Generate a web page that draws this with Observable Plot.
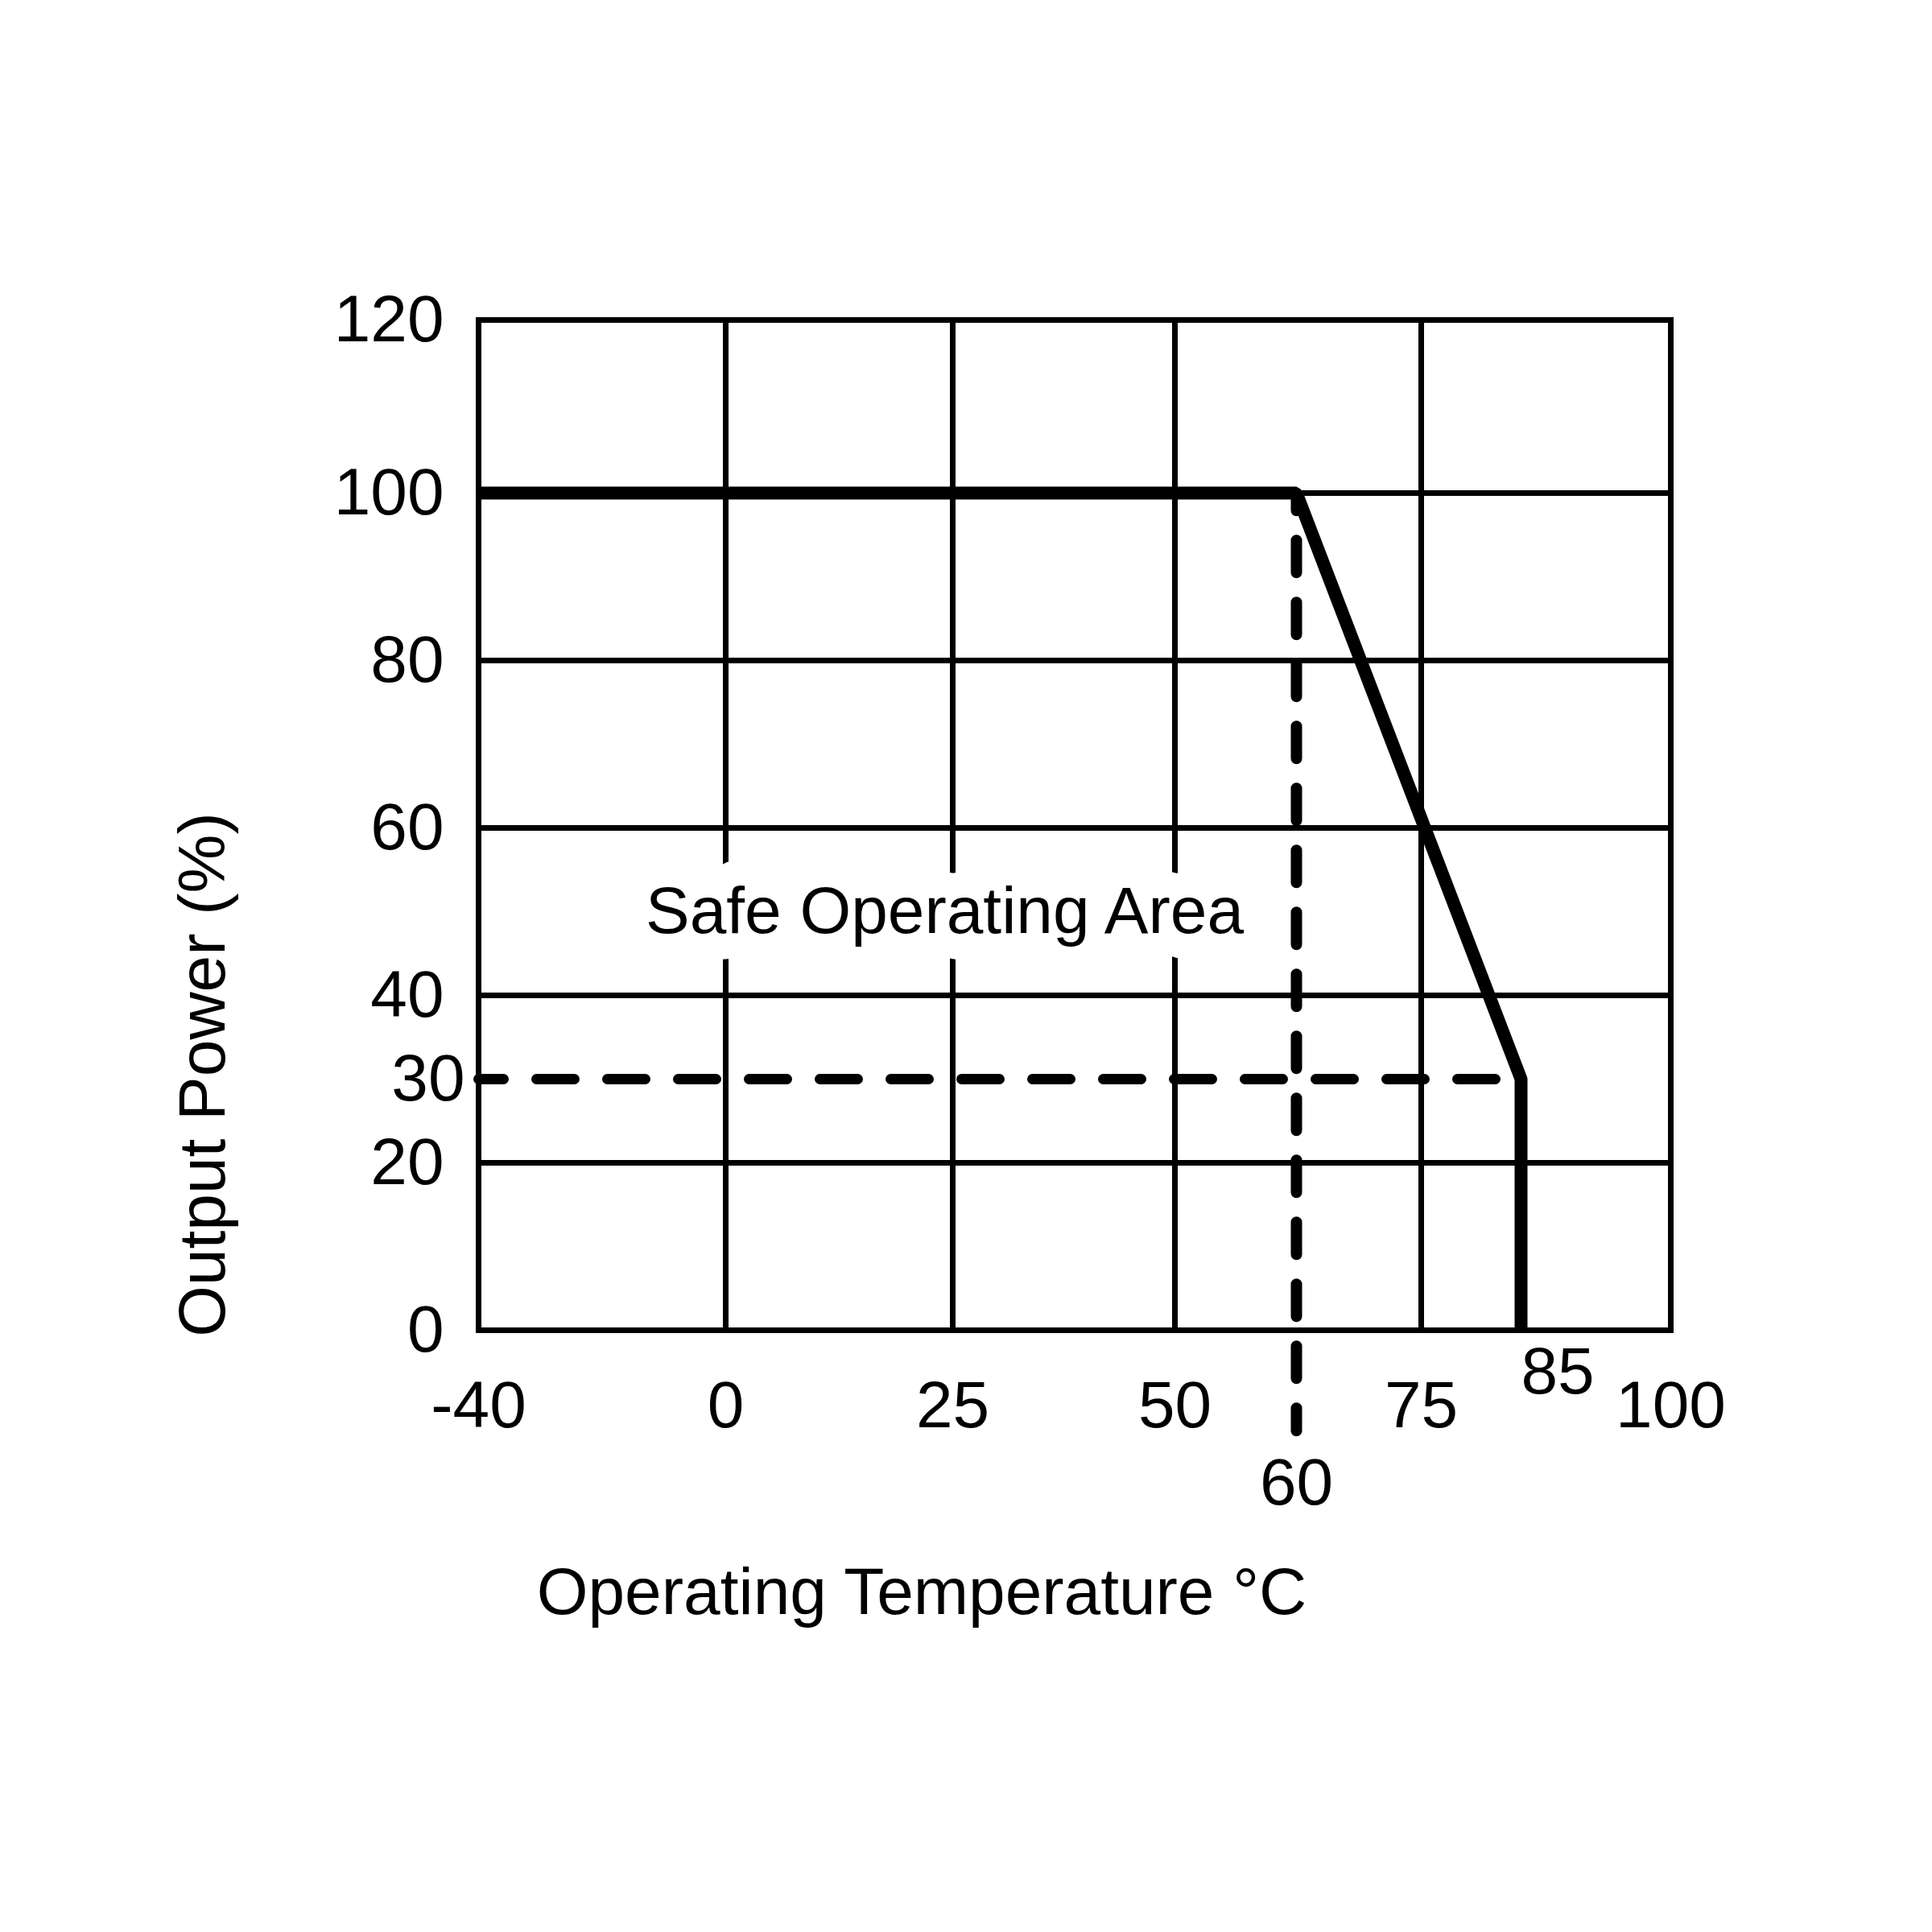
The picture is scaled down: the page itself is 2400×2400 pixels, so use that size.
<!DOCTYPE html>
<html>
<head>
<meta charset="utf-8">
<script src="https://cdn.jsdelivr.net/npm/d3@7"></script>
<script src="https://cdn.jsdelivr.net/npm/@observablehq/plot@0.6"></script>
<style>
  html, body { margin: 0; padding: 0; background: #ffffff; }
  #chart { width: 2400px; height: 2400px; }
</style>
</head>
<body>
<div id="chart"></div>
<script>
// ---- Data ----
const curveTemp  = [-40, 60, 85, 85];     // °C
const curvePower = [100, 100, 30, 0];     // %
const kneeTemp = 60;                      // derating starts
const maxTemp = 85;                       // max operating temperature
const minPower = 30;                      // power at max temperature
const dashBottom = -12;                   // dashed guide runs below the axis to the "60" label

const xGrid = [-40, 0, 25, 50, 75, 100];
const yGrid = [0, 20, 40, 60, 80, 100, 120];
const xTickLabels = ["-40", "0", "25", "50", "75", "100"];
const yTickLabels = ["0", "20", "40", "60", "80", "100", "120"];

const areaLabel = "Safe Operating Area";
const areaLabelTemp = 25;
const areaLabelPower = 50;
const xTitle = "Operating Temperature °C";
const yTitle = "Output Power (%)";

// ---- Tables built from the arrays ----
const curve = curveTemp.map((t, i) => ({t, p: curvePower[i]}));
const hDash = [{t: xGrid[0], p: minPower}, {t: maxTemp, p: minPower}];
const vDash = [{t: kneeTemp, p: dashBottom}, {t: kneeTemp, p: curvePower[1]}];

const font = "'Liberation Sans', Arial, Helvetica, sans-serif";
const fs = 82;

const chart = Plot.plot({
  width: 2400,
  height: 2400,
  marginLeft: 594,
  marginRight: 325,
  marginTop: 397,
  marginBottom: 748,
  style: {fontFamily: font, fontSize: fs + "px", color: "#000", background: "#fff", overflow: "visible"},
  // non-uniform temperature axis as printed on the reference (piecewise-linear)
  x: {type: "linear", domain: [-40, 0, 25, 50, 60, 75, 85, 100],
      range: [594, 901, 1183, 1459, 1610, 1765, 1889, 2075], axis: null},
  y: {type: "linear", domain: [0, 100, 120], range: [1652, 612, 397], axis: null},
  marks: [
    Plot.ruleY(yGrid, {stroke: "#000", strokeWidth: 7}),
    Plot.ruleX(xGrid, {stroke: "#000", strokeWidth: 7}),
    Plot.frame({stroke: "#000", strokeWidth: 7}),
    // label with a white knock-out halo that breaks the grid behind it
    Plot.text([areaLabel], {x: () => areaLabelTemp, y: () => areaLabelPower, text: d => d,
      fontSize: fs, lineAnchor: "middle", dx: -10, fill: "#000",
      stroke: "#fff", strokeWidth: 64, strokeLinejoin: "round", paintOrder: "stroke"}),
    Plot.line(hDash, {x: "t", y: "p", stroke: "#000", strokeWidth: 13,
      strokeDasharray: "47,41", strokeDashoffset: 16}),
    Plot.line(vDash, {x: "t", y: "p", stroke: "#000", strokeWidth: 14,
      strokeDasharray: "40,37", strokeDashoffset: 12}),
    Plot.line(curve, {x: "t", y: "p", stroke: "#000", strokeWidth: 16,
      strokeLinejoin: "miter", strokeLinecap: "butt"}),
    // y tick labels
    Plot.text(yGrid, {y: d => d, text: (d, i) => yTickLabels[i], frameAnchor: "left",
      textAnchor: "end", dx: -43, lineAnchor: "middle", fontSize: fs}),
    Plot.text([minPower], {y: d => d, text: d => String(d), frameAnchor: "left",
      textAnchor: "end", dx: -17, lineAnchor: "middle", fontSize: fs}),
    // x tick labels
    Plot.text(xGrid, {x: d => d, text: (d, i) => xTickLabels[i], frameAnchor: "bottom",
      dy: 94, lineAnchor: "middle", fontSize: fs}),
    Plot.text([maxTemp], {x: d => d, text: d => String(d), frameAnchor: "bottom",
      textAnchor: "start", dy: 52, lineAnchor: "middle", fontSize: fs}),
    Plot.text([kneeTemp], {x: d => d, text: d => String(d), frameAnchor: "bottom",
      dy: 190, lineAnchor: "middle", fontSize: fs}),
    // axis titles
    Plot.text([xTitle], {text: d => d, frameAnchor: "bottom", dx: -190, dy: 326,
      lineAnchor: "middle", fontSize: fs}),
    Plot.text([yTitle], {text: d => d, frameAnchor: "left", textAnchor: "middle",
      dx: -342, dy: 310, rotate: -90, lineAnchor: "middle", fontSize: fs})
  ]
});

document.getElementById("chart").appendChild(chart);
</script>
</body>
</html>
